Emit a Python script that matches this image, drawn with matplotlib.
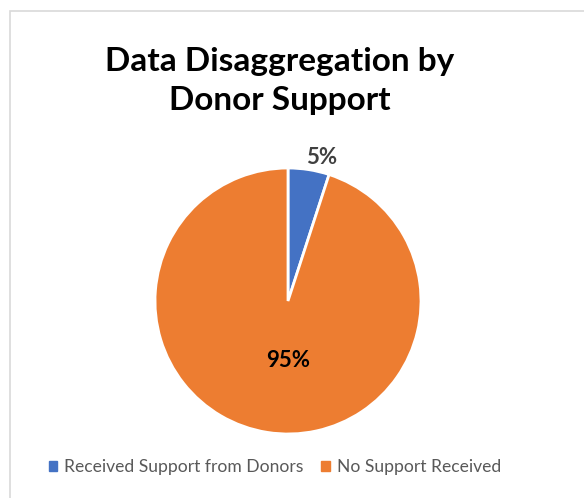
import matplotlib.pyplot as plt
from matplotlib.patches import Rectangle
import numpy as np

categories = ['Received Support from Donors', 'No Support Received']
shares = [5, 95]
colors = ['#4472c4', '#ed7d31']

W, H = 584, 498
fig = plt.figure(figsize=(W / 100, H / 100), dpi=100)
plt.rcParams['font.family'] = ['Lato', 'DejaVu Sans']

# chart border (runs off the right and bottom edges)
fig.patches.append(Rectangle((10 / W, -0.1), 1.2, 1 - 11 / H + 0.1,
                             transform=fig.transFigure, fill=False,
                             edgecolor='#d9d9d9', linewidth=1.2))

fig.text(280 / W, 1 - 81 / H, 'Data Disaggregation by\nDonor Support',
         ha='center', va='center', fontsize=24, fontweight='bold',
         linespacing=1.45, color='black')

cx, cy, r = 288, 301, 133
ax = fig.add_axes([(cx - r) / W, (H - cy - r) / H, 2 * r / W, 2 * r / H])
wedges, _ = ax.pie(shares, colors=colors, startangle=90, counterclock=False,
                   radius=1, wedgeprops=dict(edgecolor='white', linewidth=2))
ax.set_xlim(-1, 1)
ax.set_ylim(-1, 1)
ax.set_aspect('equal')
ax.axis('off')

# percentage labels
dist = [1.11, 0.45]
nudge = [-4, 9]
lab_colors = ['#404040', 'black']
for w, v, d, n, c in zip(wedges, shares, dist, nudge, lab_colors):
    ang = np.deg2rad((w.theta1 + w.theta2) / 2 + n)
    ax.text(d * np.cos(ang), d * np.sin(ang), f'{v}%', ha='center', va='center',
            fontsize=16, fontweight='bold', color=c, clip_on=False)

handles = [Rectangle((0, 0), 1, 1, color=c) for c in colors]
fig.legend(handles, categories, loc='center', bbox_to_anchor=(275 / W, 1 - 467 / H),
           ncol=2, frameon=False, fontsize=12.6, labelcolor='#595959',
           handlelength=0.5, handleheight=0.5, handletextpad=0.4,
           columnspacing=1.0)

fig.savefig('out.png', dpi=100)
